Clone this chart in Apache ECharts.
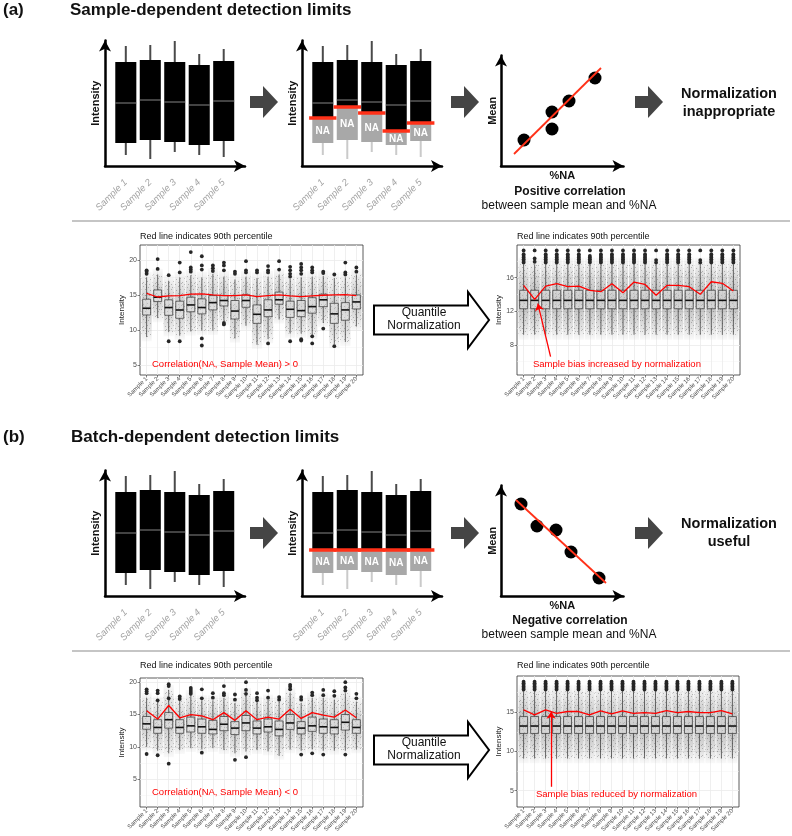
<!DOCTYPE html>
<html>
<head>
<meta charset="utf-8">
<script src="https://cdn.jsdelivr.net/npm/echarts@6/dist/echarts.min.js"></script>
<style>
html, body { margin: 0; padding: 0; background: #fff; }
#chart { width: 792px; height: 836px; }
</style>
</head>
<body>
<div id="chart"></div>
<script>
// schematic boxes, arbitrary intensity units
const schemSamples = [1, 2, 3, 4, 5]
const schemWhiskLow = [1.1, 0.7, 1.4, 1.1, 0.9]
const schemQ1 = [2.3, 2.6, 2.4, 2.1, 2.5]
const schemMedian = [6.3, 6.6, 6.4, 6.1, 6.5]
const schemQ3 = [10.4, 10.6, 10.4, 10.1, 10.5]
const schemWhiskHigh = [12.0, 12.1, 12.5, 11.2, 11.7]
const sampleCutoff = [4.8, 5.9, 5.3, 3.5, 4.3]
const batchCutoff = [4.6, 4.6, 4.6, 4.6, 4.6]

// sample mean vs %NA
const posNA = [2.3, 5.1, 5.1, 6.8, 9.4]
const posMean = [2.6, 5.4, 3.7, 6.5, 8.8]
const posFit = [[1.3, 1.2], [10.0, 9.8]]
const negNA = [2.0, 3.6, 5.5, 7.0, 9.8]
const negMean = [9.2, 7.0, 6.6, 4.4, 1.8]
const negFit = [[1.5, 9.6], [10.5, 1.3]]

// 20 samples
const samples = [1, 2, 3, 4, 5, 6, 7, 8, 9, 10, 11, 12, 13, 14, 15, 16, 17, 18, 19, 20]

// (a) before normalization
const aLeftLow = [9.0, 11.7, 9.7, 9.2, 9.8, 9.9, 9.9, 11.3, 8.8, 10.6, 7.9, 8.7, 11.5, 9.5, 9.5, 9.3, 11.0, 8.0, 8.3, 10.5]
const aLeftQ1 = [12.14, 14.05, 12.1, 11.67, 12.6, 12.3, 12.86, 13.43, 11.57, 13.24, 10.95, 11.9, 13.67, 11.8, 11.9, 12.4, 13.33, 10.95, 11.4, 13.0]
const aLeftMed = [13.1, 14.67, 13.2, 12.85, 13.57, 13.2, 13.9, 14.2, 12.7, 14.2, 12.24, 12.86, 14.3, 12.95, 12.76, 13.33, 14.3, 12.3, 12.86, 14.0]
const aLeftQ3 = [14.38, 15.7, 14.3, 14.1, 14.67, 14.43, 14.9, 14.9, 14.2, 15.0, 13.57, 14.3, 15.4, 14.1, 14.2, 14.6, 15.1, 13.8, 13.9, 15.0]
const aLeftHigh = [17.5, 17.9, 17.0, 17.5, 17.8, 17.5, 18.0, 17.6, 17.2, 17.6, 17.4, 17.6, 17.9, 17.3, 17.5, 17.6, 17.7, 17.4, 17.5, 17.9]
const aLeftP90 = [15.2, 14.7, 14.86, 14.9, 15.1, 15.14, 15.0, 14.9, 14.9, 15.0, 14.76, 14.9, 15.0, 14.86, 14.76, 14.86, 14.95, 15.0, 15.05, 14.9]
const aLeftOut = [
  [18.0, 18.3, 18.5], [18.7, 20.1], [17.8, 8.4], [18.2, 19.6, 8.4], [21.1, 18.9, 18.6, 18.3],
  [20.5, 19.2, 18.6, 8.8, 7.8], [19.2, 18.8, 18.4], [19.6, 19.2, 18.5, 11.0, 10.8], [18.3, 18.0], [19.8, 18.5, 18.2],
  [18.5, 18.2], [19.1, 18.5, 18.2, 8.1], [19.8, 18.6], [19.0, 18.5, 18.0, 17.6, 8.4], [19.4, 18.9, 18.5, 18.0, 8.7, 8.5],
  [18.9, 18.5, 18.2, 9.1, 8.1], [18.3, 18.1, 10.2], [17.9, 7.7], [19.6, 18.2, 17.9], [18.9, 18.3]
]

// (a) after quantile normalization
const aRightLow = [9.2, 9.2, 9.2, 9.2, 9.2, 9.2, 9.2, 9.2, 9.2, 9.2, 9.2, 9.2, 9.2, 9.2, 9.2, 9.2, 9.2, 9.2, 9.2, 9.2]
const aRightQ1 = [12.3, 12.3, 12.3, 12.3, 12.3, 12.3, 12.3, 12.3, 12.3, 12.3, 12.3, 12.3, 12.3, 12.3, 12.3, 12.3, 12.3, 12.3, 12.3, 12.3]
const aRightMed = [13.3, 13.3, 13.3, 13.3, 13.3, 13.3, 13.3, 13.3, 13.3, 13.3, 13.3, 13.3, 13.3, 13.3, 13.3, 13.3, 13.3, 13.3, 13.3, 13.3]
const aRightQ3 = [14.5, 14.5, 14.5, 14.5, 14.5, 14.5, 14.5, 14.5, 14.5, 14.5, 14.5, 14.5, 14.5, 14.5, 14.5, 14.5, 14.5, 14.5, 14.5, 14.5]
const aRightHigh = [17.6, 17.6, 17.6, 17.6, 17.6, 17.6, 17.6, 17.6, 17.6, 17.6, 17.6, 17.6, 17.6, 17.6, 17.6, 17.6, 17.6, 17.6, 17.6, 17.6]
const aRightP90 = [15.09, 13.42, 15.0, 15.29, 14.93, 15.0, 14.49, 14.33, 15.29, 14.21, 15.48, 15.2, 13.9, 15.09, 15.09, 14.93, 14.02, 15.52, 15.33, 14.41]
const aRightOut = [
  [19.25, 18.8, 18.6, 18.4, 18.2, 18.0, 17.8], [19.25, 18.3, 17.9], [19.25, 18.8, 18.6, 18.4, 18.2, 18.0, 17.8], [19.25, 18.8, 18.6, 18.4, 18.2, 18.0, 17.8], [19.25, 18.8, 18.6, 18.4, 18.2, 18.0, 17.8],
  [19.25, 18.8, 18.6, 18.4, 18.2, 18.0, 17.8], [19.25, 18.6, 18.4, 18.2, 18.0, 17.8], [19.25, 18.8, 18.6, 18.4, 18.2, 18.0, 17.8], [19.25, 18.8, 18.6, 18.4, 18.2, 18.0, 17.8], [19.25, 18.8, 18.6, 18.4, 18.2, 18.0, 17.8],
  [19.25, 18.8, 18.6, 18.4, 18.2, 18.0, 17.8], [19.25, 18.8, 18.6, 18.4, 18.2, 18.0, 17.8], [19.25, 18.1, 17.8], [19.25, 18.8, 18.6, 18.4, 18.2, 18.0, 17.8], [19.25, 18.8, 18.6, 18.4, 18.2, 18.0, 17.8],
  [19.25, 18.8, 18.6, 18.4, 18.2, 18.0, 17.8], [19.25, 18.1, 17.8], [19.25, 18.8, 18.6, 18.4, 18.2, 18.0, 17.8], [19.25, 18.8, 18.6, 18.4, 18.2, 18.0, 17.8], [19.25, 18.8, 18.6, 18.4, 18.2, 18.0, 17.8]
]
const aRightArrow = [[3.44, 6.6], [2.29, 12.9]]

// (b) before normalization
const bLeftLow = [10.0, 9.4, 9.0, 9.5, 9.8, 9.6, 9.8, 9.5, 9.0, 9.3, 9.5, 9.3, 8.6, 9.6, 9.4, 9.6, 9.4, 9.4, 9.4, 9.6]
const bLeftQ1 = [12.73, 12.1, 12.9, 12.1, 12.3, 12.1, 12.0, 12.5, 11.9, 12.5, 12.0, 12.3, 11.7, 12.7, 12.0, 12.4, 12.1, 12.0, 12.6, 12.1]
const bLeftMed = [13.56, 13.0, 14.2, 13.0, 13.25, 13.1, 12.7, 13.5, 12.9, 13.7, 12.9, 13.1, 12.7, 13.7, 12.9, 13.25, 13.1, 13.0, 13.8, 13.0]
const bLeftQ3 = [14.7, 14.2, 15.3, 14.2, 14.6, 14.3, 14.1, 14.7, 13.9, 14.85, 14.0, 14.3, 14.0, 15.0, 13.9, 14.6, 14.3, 14.2, 15.0, 14.2]
const bLeftHigh = [17.6, 17.0, 18.8, 17.1, 18.0, 17.2, 17.2, 17.6, 16.8, 18.3, 17.0, 17.3, 17.0, 18.4, 16.8, 17.6, 17.6, 17.3, 18.3, 17.0]
const bLeftP90 = [15.6, 14.3, 16.4, 14.5, 15.0, 14.8, 14.2, 15.3, 14.1, 15.6, 14.2, 14.6, 14.3, 15.8, 14.4, 15.3, 14.9, 14.6, 15.7, 14.5]
const bLeftOut = [
  [18.9, 18.6, 18.3, 8.9], [18.7, 18.3, 17.2, 8.7], [19.7, 19.4, 17.5, 7.4], [17.8, 17.4], [19.1, 18.8, 18.5, 18.2],
  [18.9, 17.5, 9.1], [18.3, 17.6], [19.4, 18.3, 18.0], [18.1, 17.3, 8.0], [20.0, 18.8, 18.2, 8.4],
  [18.3, 17.6, 17.2], [18.7, 17.6], [17.7, 17.3], [19.6, 19.3, 18.9], [17.7, 17.3, 8.8],
  [18.4, 18.0, 9.0], [18.8, 18.0, 8.8], [18.6, 17.9], [20.0, 19.2, 18.7, 8.8], [18.2, 17.5]
]

// (b) after quantile normalization
const bRightLow = [9.1, 9.1, 9.1, 9.1, 9.1, 9.1, 9.1, 9.1, 9.1, 9.1, 9.1, 9.1, 9.1, 9.1, 9.1, 9.1, 9.1, 9.1, 9.1, 9.1]
const bRightQ1 = [12.3, 12.3, 12.3, 12.3, 12.3, 12.3, 12.3, 12.3, 12.3, 12.3, 12.3, 12.3, 12.3, 12.3, 12.3, 12.3, 12.3, 12.3, 12.3, 12.3]
const bRightMed = [13.25, 13.25, 13.25, 13.25, 13.25, 13.25, 13.25, 13.25, 13.25, 13.25, 13.25, 13.25, 13.25, 13.25, 13.25, 13.25, 13.25, 13.25, 13.25, 13.25]
const bRightQ3 = [14.45, 14.45, 14.45, 14.45, 14.45, 14.45, 14.45, 14.45, 14.45, 14.45, 14.45, 14.45, 14.45, 14.45, 14.45, 14.45, 14.45, 14.45, 14.45, 14.45]
const bRightHigh = [17.7, 17.7, 17.7, 17.7, 17.7, 17.7, 17.7, 17.7, 17.7, 17.7, 17.7, 17.7, 17.7, 17.7, 17.7, 17.7, 17.7, 17.7, 17.7, 17.7]
const bRightP90 = [15.3, 14.66, 15.3, 14.87, 15.1, 15.1, 14.66, 15.17, 14.8, 15.17, 14.87, 14.96, 14.87, 15.2, 14.96, 15.1, 14.96, 14.96, 15.2, 14.8]
const bRightOut = samples.map(() => [18.9, 18.7, 18.5, 18.3, 18.1, 17.9])
const bRightArrow = [[3.5, 5.5], [3.5, 15.08]]

const FONT = '"Liberation Sans", Arial, sans-serif'
const RED = '#ff3118'
const GG_RED = '#ff0000'

const grid = []
const xAxis = []
const yAxis = []
const series = []

const arrowLine = {
  show: true,
  onZero: false,
  lineStyle: { color: '#000', width: 2.5 },
  symbol: ['none', 'arrow'],
  symbolSize: [9, 11],
}

// small speckle tile for the jitter clouds
const speckle = document.createElement('canvas')
speckle.width = 13
speckle.height = 11
{
  const c = speckle.getContext('2d')
  c.fillStyle = 'rgba(40,40,40,0.5)'
  ;[[0, 0], [5, 1], [9, 0], [2, 3], [7, 4], [11, 3], [4, 6], [0, 7], [9, 7], [12, 8], [2, 9], [6, 9], [10, 10], [3, 1]]
    .forEach(([x, y]) => c.fillRect(x, y, 1, 1))
}

function schemRender(params, api) {
  const x = api.value(0)
  const cut = api.value(6)
  const hw = 0.43
  const top = api.coord([x - hw, api.value(4)])
  const bot = api.coord([x + hw, api.value(2)])
  const lo = api.coord([x, api.value(1)])
  const hi = api.coord([x, api.value(5)])
  const med = api.coord([x, api.value(3)])
  const hasCut = cut > 0
  const cutP = hasCut ? api.coord([x, cut]) : bot
  const kids = [
    { type: 'line', shape: { x1: hi[0], y1: hi[1], x2: hi[0], y2: top[1] }, style: { stroke: '#4a4a4a', lineWidth: 2 } },
    { type: 'line', shape: { x1: lo[0], y1: lo[1], x2: lo[0], y2: bot[1] }, style: { stroke: hasCut ? '#cacaca' : '#4a4a4a', lineWidth: 2 } },
    { type: 'rect', shape: { x: top[0], y: top[1], width: bot[0] - top[0], height: cutP[1] - top[1] }, style: { fill: '#000' } },
    { type: 'line', shape: { x1: top[0], y1: med[1], x2: bot[0], y2: med[1] }, style: { stroke: '#858585', lineWidth: 1 } },
  ]
  if (hasCut) {
    kids.push({ type: 'rect', shape: { x: top[0], y: cutP[1], width: bot[0] - top[0], height: bot[1] - cutP[1] }, style: { fill: '#a8a8a8' } })
    kids.push({
      type: 'text',
      style: { text: 'NA', x: med[0], y: (cutP[1] + bot[1]) / 2 + 1, fill: '#fff', font: 'bold 10px ' + FONT, align: 'center', verticalAlign: 'middle' },
    })
    const l = api.coord([x - 0.56, cut])
    const r = api.coord([x + 0.56, cut])
    kids.push({ type: 'line', shape: { x1: l[0], y1: l[1], x2: r[0], y2: r[1] }, style: { stroke: RED, lineWidth: 3.5 } })
  }
  return { type: 'group', children: kids }
}

function addSchematic(left, top, cutoff) {
  const gi = grid.length
  grid.push({ left, top, width: 140, height: 125.5 })
  xAxis.push({
    gridIndex: gi, type: 'value', min: 0.15, max: 5.87,
    axisLine: arrowLine,
    axisTick: { show: false, customValues: schemSamples },
    axisLabel: { customValues: schemSamples, rotate: 45, margin: 15, fontSize: 9.5, fontStyle: 'italic', color: '#a3a3a3', fontFamily: FONT, formatter: 'Sample {value}' },
    splitLine: { show: false },
  })
  yAxis.push({
    gridIndex: gi, type: 'value', min: 0, max: 12.55,
    name: 'Intensity', nameLocation: 'middle', nameGap: 4,
    nameTextStyle: { fontWeight: 'bold', fontSize: 11, color: '#111', fontFamily: FONT },
    axisLine: arrowLine, axisTick: { show: false }, axisLabel: { show: false }, splitLine: { show: false },
  })
  series.push({
    type: 'custom', xAxisIndex: xAxis.length - 1, yAxisIndex: yAxis.length - 1,
    renderItem: schemRender, clip: false,
    data: schemSamples.map((s, i) => [s, schemWhiskLow[i], schemQ1[i], schemMedian[i], schemQ3[i], schemWhiskHigh[i], cutoff ? cutoff[i] : -1]),
  })
}

function addScatter(left, top, na, mean, fit) {
  const gi = grid.length
  grid.push({ left, top, width: 122.5, height: 110.5 })
  xAxis.push({
    gridIndex: gi, type: 'value', min: 0, max: 12.25,
    name: '%NA', nameLocation: 'middle', nameGap: 4,
    nameTextStyle: { fontWeight: 'bold', fontSize: 11, color: '#111', fontFamily: FONT },
    axisLine: arrowLine, axisTick: { show: false }, axisLabel: { show: false }, splitLine: { show: false },
  })
  yAxis.push({
    gridIndex: gi, type: 'value', min: 0, max: 11.05,
    name: 'Mean', nameLocation: 'middle', nameGap: 3,
    nameTextStyle: { fontWeight: 'bold', fontSize: 11, color: '#111', fontFamily: FONT },
    axisLine: arrowLine, axisTick: { show: false }, axisLabel: { show: false }, splitLine: { show: false },
  })
  const xi = xAxis.length - 1
  const yi = yAxis.length - 1
  series.push({
    type: 'scatter', xAxisIndex: xi, yAxisIndex: yi, symbolSize: 13,
    itemStyle: { color: '#000', opacity: 1 },
    data: na.map((v, i) => [v, mean[i]]),
  })
  series.push({
    type: 'line', xAxisIndex: xi, yAxisIndex: yi, symbol: 'none', z: 5,
    lineStyle: { color: RED, width: 1.8 },
    data: fit,
  })
}

function cloudRender(alpha) {
  return function (params, api) {
    const x = api.value(0)
    const a = api.coord([x - 0.46, api.value(2) + 0.8])
    const b = api.coord([x + 0.46, api.value(1) - 0.6])
    const m1 = api.coord([x - 0.46, api.value(2)])
    const m2 = api.coord([x + 0.46, api.value(1)])
    return {
      type: 'group',
      children: [
        {
          type: 'rect',
          shape: { x: a[0], y: a[1], width: b[0] - a[0], height: b[1] - a[1] },
          style: {
            fill: new echarts.graphic.LinearGradient(0, 0, 0, 1, [
              { offset: 0, color: 'rgba(70,70,70,0.03)' },
              { offset: 0.25, color: `rgba(70,70,70,${alpha * 0.55})` },
              { offset: 0.5, color: `rgba(70,70,70,${alpha})` },
              { offset: 0.78, color: `rgba(70,70,70,${alpha * 0.55})` },
              { offset: 1, color: 'rgba(70,70,70,0.03)' },
            ]),
          },
        },
        {
          type: 'rect',
          shape: { x: m1[0], y: m1[1], width: m2[0] - m1[0], height: m2[1] - m1[1] },
          style: { fill: { image: speckle, repeat: 'repeat' }, opacity: 0.55 },
        },
      ],
    }
  }
}

function ggBoxRender(params, api) {
  const x = api.value(0)
  const hw = 0.36
  const lo = api.coord([x, api.value(1)])
  const q1 = api.coord([x - hw, api.value(2)])
  const med = api.coord([x - hw, api.value(3)])
  const q3 = api.coord([x + hw, api.value(4)])
  const hi = api.coord([x, api.value(5)])
  const ls = { stroke: '#333', lineWidth: 0.7 }
  return {
    type: 'group',
    children: [
      { type: 'line', shape: { x1: lo[0], y1: lo[1], x2: lo[0], y2: q1[1] }, style: ls },
      { type: 'line', shape: { x1: hi[0], y1: hi[1], x2: hi[0], y2: q3[1] }, style: ls },
      { type: 'rect', shape: { x: q1[0], y: q3[1], width: q3[0] - q1[0], height: q1[1] - q3[1] }, style: { fill: 'rgba(255,255,255,0.3)', stroke: '#333', lineWidth: 0.7 } },
      { type: 'line', shape: { x1: med[0], y1: med[1], x2: q3[0], y2: med[1] }, style: { stroke: '#111', lineWidth: 1.6 } },
    ],
  }
}

function addPanel(p) {
  const gi = grid.length
  grid.push({ left: p.left, top: p.top, width: p.width, height: p.height, show: true, backgroundColor: '#fff', borderColor: '#333', borderWidth: 0.8 })
  xAxis.push({
    gridIndex: gi, type: 'value', min: 0.4, max: 20.6,
    axisLine: { show: false },
    axisTick: { show: true, length: 2.5, customValues: samples, lineStyle: { color: '#333', width: 0.6 } },
    axisLabel: { customValues: samples, rotate: 45, margin: 3, fontSize: 6, color: '#4d4d4d', fontFamily: FONT, formatter: 'Sample {value}' },
    splitLine: { show: true, lineStyle: { color: '#ebebeb', width: 0.8 } },
  })
  const xi = xAxis.length - 1
  yAxis.push({
    gridIndex: gi, type: 'value', min: p.yMin, max: p.yMax,
    name: 'Intensity', nameLocation: 'middle', nameGap: 12,
    nameTextStyle: { fontSize: 8, color: '#222', fontFamily: FONT },
    axisLine: { show: false },
    axisTick: { show: true, length: 2.5, customValues: p.yTicks, lineStyle: { color: '#333', width: 0.6 } },
    axisLabel: { customValues: p.yTicks, margin: 3, fontSize: 7, color: '#4d4d4d', fontFamily: FONT },
    splitLine: { show: true, lineStyle: { color: '#ebebeb', width: 0.8 } },
  })
  const yi = yAxis.length - 1
  // minor grid lines
  yAxis.push({
    gridIndex: gi, type: 'value', min: p.yMin, max: p.yMax, position: 'left',
    axisLine: { show: false },
    axisTick: { show: false, customValues: p.yMinor },
    axisLabel: { show: false },
    splitLine: { show: true, lineStyle: { color: '#f3f3f3', width: 0.5 } },
  })
  series.push({
    type: 'custom', xAxisIndex: xi, yAxisIndex: yi, z: 1,
    renderItem: cloudRender(p.cloud),
    data: samples.map((s, i) => [s, p.low[i], p.high[i]]),
  })
  series.push({
    type: 'custom', xAxisIndex: xi, yAxisIndex: yi, z: 2,
    renderItem: ggBoxRender,
    data: samples.map((s, i) => [s, p.low[i], p.q1[i], p.med[i], p.q3[i], p.high[i]]),
  })
  const outData = []
  p.out.forEach((vals, i) => vals.forEach(v => outData.push([samples[i], v])))
  series.push({
    type: 'scatter', xAxisIndex: xi, yAxisIndex: yi, z: 3,
    symbolSize: 3.8, itemStyle: { color: '#262626', opacity: 1 },
    data: outData,
  })
  const line = {
    type: 'line', xAxisIndex: xi, yAxisIndex: yi, z: 4,
    symbol: 'none', lineStyle: { color: GG_RED, width: 1.3 },
    data: samples.map((s, i) => [s, p.p90[i]]),
  }
  if (p.arrow) {
    line.markLine = {
      silent: true, symbol: ['none', 'arrow'], symbolSize: 7,
      lineStyle: { color: GG_RED, width: 1.3, type: 'solid' },
      label: { show: false },
      data: [[{ coord: p.arrow[0] }, { coord: p.arrow[1] }]],
    }
  }
  series.push(line)
}

// (a)
addSchematic(105, 40.5, null)
addSchematic(302, 40.5, sampleCutoff)
addScatter(501, 55.5, posNA, posMean, posFit)
addPanel({
  left: 140, top: 245, width: 223, height: 130, yMin: 3.6, yMax: 22.1,
  yTicks: [5, 10, 15, 20], yMinor: [7.5, 12.5, 17.5], cloud: 0.3,
  low: aLeftLow, q1: aLeftQ1, med: aLeftMed, q3: aLeftQ3, high: aLeftHigh, p90: aLeftP90, out: aLeftOut,
})
addPanel({
  left: 517, top: 245, width: 223, height: 130, yMin: 4.4, yMax: 19.9,
  yTicks: [8, 12, 16], yMinor: [6, 10, 14, 18], cloud: 0.38,
  low: aRightLow, q1: aRightQ1, med: aRightMed, q3: aRightQ3, high: aRightHigh, p90: aRightP90, out: aRightOut,
  arrow: aRightArrow,
})

// (b)
addSchematic(105, 470.5, null)
addSchematic(302, 470.5, batchCutoff)
addScatter(501, 485.5, negNA, negMean, negFit)
addPanel({
  left: 140, top: 678, width: 223, height: 129, yMin: 0.7, yMax: 20.65,
  yTicks: [5, 10, 15, 20], yMinor: [2.5, 7.5, 12.5, 17.5], cloud: 0.3,
  low: bLeftLow, q1: bLeftQ1, med: bLeftMed, q3: bLeftQ3, high: bLeftHigh, p90: bLeftP90, out: bLeftOut,
})
addPanel({
  left: 517, top: 676, width: 222, height: 131, yMin: 2.92, yMax: 19.63,
  yTicks: [5, 10, 15], yMinor: [7.5, 12.5, 17.5], cloud: 0.38,
  low: bRightLow, q1: bRightQ1, med: bRightMed, q3: bRightQ3, high: bRightHigh, p90: bRightP90, out: bRightOut,
  arrow: bRightArrow,
})

function txt(text, x, y, size, opt = {}) {
  return {
    type: 'text', x, y, z: 100,
    style: {
      text,
      font: `${opt.italic ? 'italic ' : ''}${opt.bold ? 'bold' : 'normal'} ${size}px ${FONT}`,
      fill: opt.color || '#111',
      align: opt.align || 'left',
      verticalAlign: 'middle',
    },
  }
}

function blockArrow(x0, yc) {
  return {
    type: 'polygon', z: 50,
    shape: { points: [[x0, yc - 6], [x0 + 13, yc - 6], [x0 + 13, yc - 16], [x0 + 28, yc], [x0 + 13, yc + 16], [x0 + 13, yc + 6], [x0, yc + 6]] },
    style: { fill: '#454545' },
  }
}

function hollowArrow(yc) {
  return {
    type: 'polygon', z: 50,
    shape: { points: [[374, yc - 14.5], [468, yc - 14.5], [468, yc - 28], [489, yc], [468, yc + 28], [468, yc + 14.5], [374, yc + 14.5]] },
    style: { fill: '#fff', stroke: '#000', lineWidth: 2 },
  }
}

const graphic = [
  txt('(a)', 3, 10, 17, { bold: true }),
  txt('Sample-dependent detection limits', 70, 10, 17, { bold: true }),
  blockArrow(250, 102), blockArrow(451, 102), blockArrow(635, 102),
  txt('Positive correlation', 570, 192, 12, { bold: true, align: 'center' }),
  txt('between sample mean and %NA', 569, 206, 12, { align: 'center' }),
  txt('Normalization', 729, 94, 14.5, { bold: true, align: 'center' }),
  txt('inappropriate', 729, 112, 14.5, { bold: true, align: 'center' }),
  { type: 'line', z: 50, shape: { x1: 72, y1: 221, x2: 790, y2: 221 }, style: { stroke: '#8c8c8c', lineWidth: 1.2 } },
  txt('Red line indicates 90th percentile', 140, 237, 9),
  txt('Red line indicates 90th percentile', 517, 237, 9),
  hollowArrow(320),
  txt('Quantile', 424, 313, 12, { align: 'center' }),
  txt('Normalization', 424, 325.5, 12, { align: 'center' }),
  txt('Correlation(NA, Sample Mean) > 0', 152, 364, 9.5, { color: GG_RED }),
  txt('Sample bias increased by normalization', 533, 364, 9.5, { color: GG_RED }),

  txt('(b)', 3, 437, 17, { bold: true }),
  txt('Batch-dependent detection limits', 71, 437, 17, { bold: true }),
  blockArrow(250, 533), blockArrow(451, 533), blockArrow(635, 533),
  txt('Negative correlation', 570, 621, 12, { bold: true, align: 'center' }),
  txt('between sample mean and %NA', 569, 635, 12, { align: 'center' }),
  txt('Normalization', 729, 524, 14.5, { bold: true, align: 'center' }),
  txt('useful', 729, 542, 14.5, { bold: true, align: 'center' }),
  { type: 'line', z: 50, shape: { x1: 72, y1: 651, x2: 790, y2: 651 }, style: { stroke: '#8c8c8c', lineWidth: 1.2 } },
  txt('Red line indicates 90th percentile', 140, 666, 9),
  txt('Red line indicates 90th percentile', 517, 666, 9),
  hollowArrow(750),
  txt('Quantile', 424, 743, 12, { align: 'center' }),
  txt('Normalization', 424, 755.5, 12, { align: 'center' }),
  txt('Correlation(NA, Sample Mean) < 0', 152, 792, 9.5, { color: GG_RED }),
  txt('Sample bias reduced by normalization', 536, 794, 9.5, { color: GG_RED }),
]

const chart = echarts.init(document.getElementById('chart'), null, { renderer: 'canvas' })
chart.setOption({
  animation: false,
  backgroundColor: '#fff',
  textStyle: { fontFamily: FONT },
  grid,
  xAxis,
  yAxis,
  series,
  graphic,
})
</script>
</body>
</html>
